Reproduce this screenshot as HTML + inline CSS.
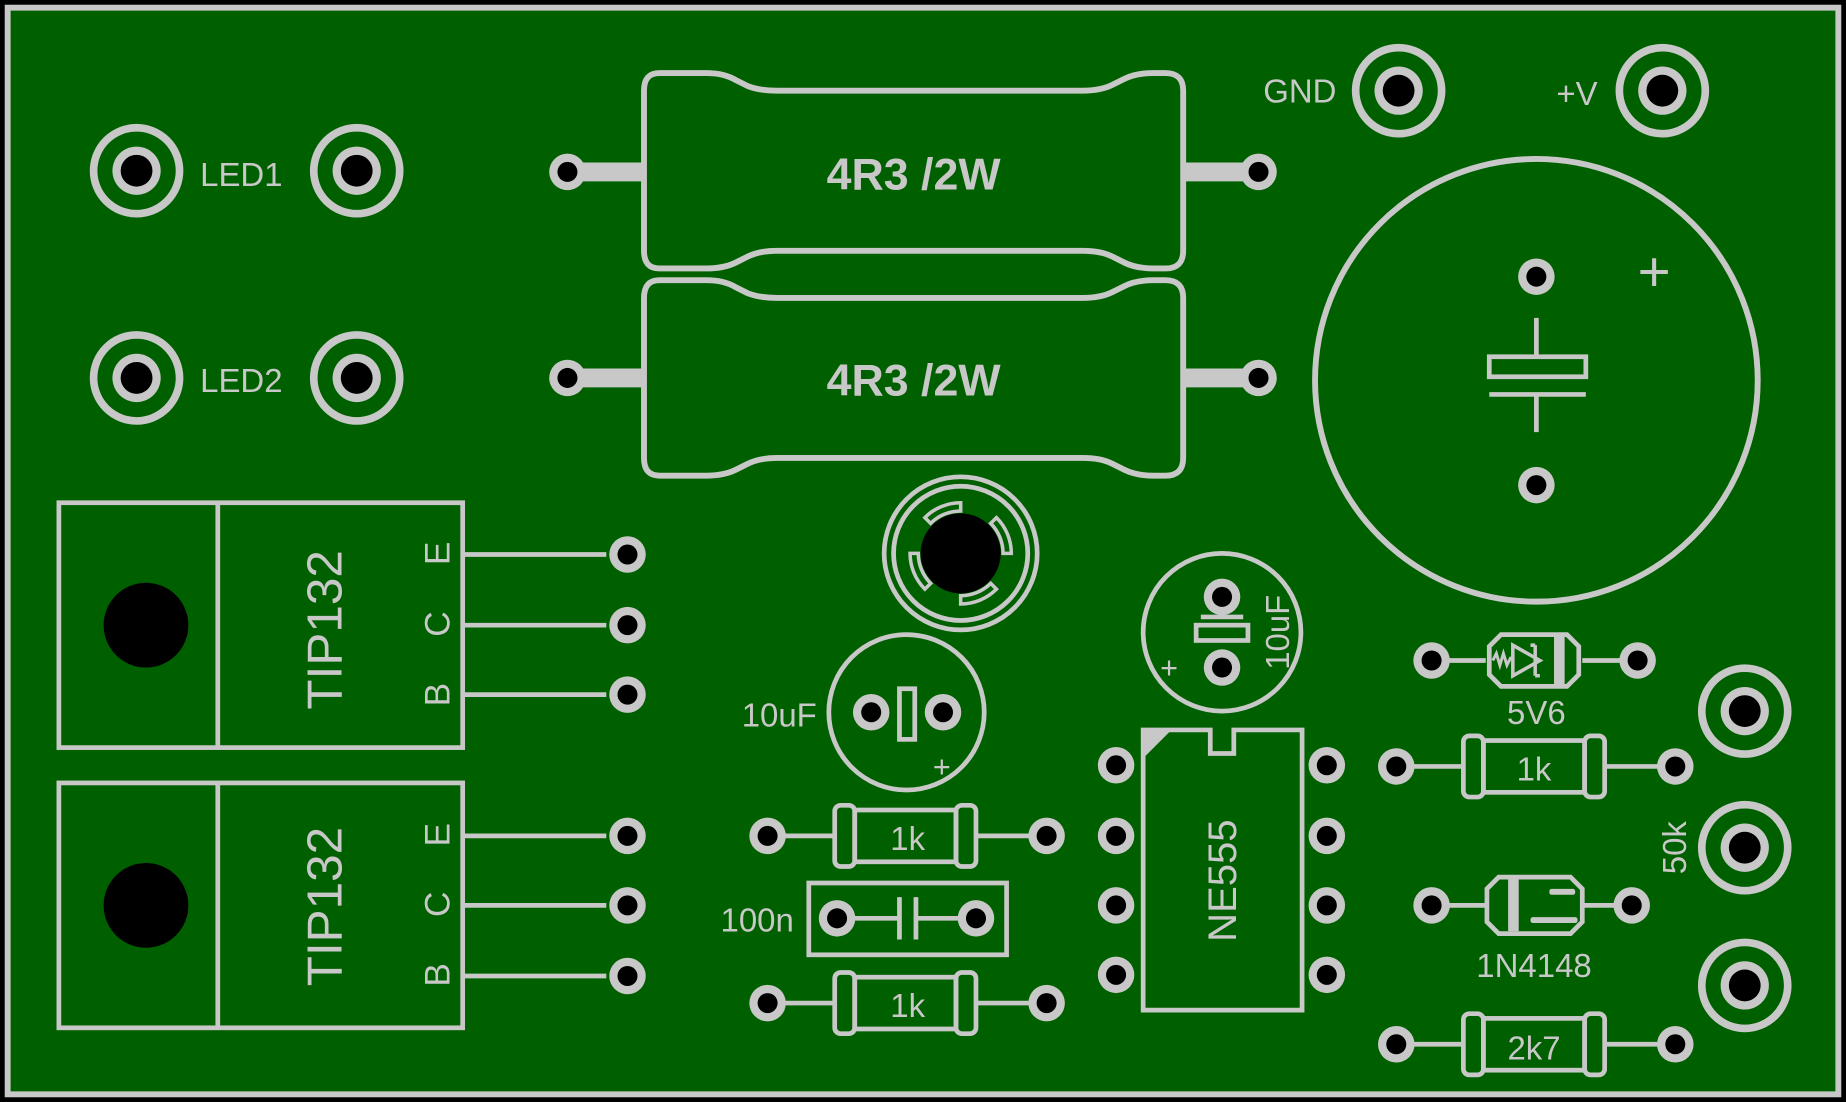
<!DOCTYPE html>
<html><head><meta charset="utf-8"><style>html,body{margin:0;padding:0;background:#000}svg{display:block}</style></head><body>
<svg width="1846" height="1102" viewBox="0 0 1568 936" xmlns="http://www.w3.org/2000/svg" font-family="Liberation Sans, sans-serif">
<defs>
<g id="bp"><circle r="36.5" fill="none" stroke="#c8c8c8" stroke-width="6.5"/><circle r="20.5" fill="#c8c8c8"/><circle r="13.5" fill="#000"/></g>
<g id="sp"><circle r="15.5" fill="#c8c8c8"/><circle r="8.5" fill="#000"/></g>
<g id="res"><rect x="-60" y="-26" width="17" height="52" rx="5" fill="none" stroke="#c8c8c8" stroke-width="4"/><rect x="43" y="-26" width="17" height="52" rx="5" fill="none" stroke="#c8c8c8" stroke-width="4"/><rect x="-43" y="-22" width="86" height="44" fill="none" stroke="#c8c8c8" stroke-width="4"/></g>
<path id="big" d="M560 62 H600 Q615 62 625 68 L635 73 Q645 77 660 77 H920 Q935 77 945 72 L955 67 Q965 62 980 62 H990 Q1005 62 1005 77 V213 Q1005 228 990 228 H980 Q965 228 955 223 L945 218 Q935 213 920 213 H660 Q645 213 635 218 L625 223 Q615 228 600 228 H560 Q547 228 547 213 V77 Q547 62 560 62 Z" fill="none" stroke="#c8c8c8" stroke-width="5"/>
<path id="seg" d="M-30.4 -30.4 A43 43 0 0 1 0 -43 L0 -36 A36 36 0 0 0 -25.5 -25.5 Z" fill="none" stroke="#c8c8c8" stroke-width="3"/>
</defs>
<rect x="4" y="4" width="1560" height="928" fill="#c8c8c8"/>
<rect x="9" y="9" width="1550" height="918" fill="#006000"/>
<g fill="#c8c8c8" font-size="28">
<text x="170" y="158">LED1</text><text x="170" y="333">LED2</text>
<text x="1073" y="87">GND</text><text x="1322" y="89">+V</text>
<text x="630" y="617">10uF</text><text x="612" y="791">100n</text>
<text x="1305" y="615" text-anchor="middle">5V6</text>
<text x="1303" y="830" text-anchor="middle">1N4148</text>
<text x="771" y="722" text-anchor="middle">1k</text><text x="771" y="864" text-anchor="middle">1k</text>
<text x="1303" y="663" text-anchor="middle">1k</text><text x="1303" y="900" text-anchor="middle">2k7</text>
<text transform="translate(1432,720) rotate(-90)" text-anchor="middle">50k</text>
<text transform="translate(1095,537) rotate(-90)" text-anchor="middle">10uF</text>
<text transform="translate(1050,748) rotate(-90)" text-anchor="middle" font-size="34">NE555</text>
<text transform="translate(290,535) rotate(-90)" text-anchor="middle" font-size="42">TIP132</text>
<text transform="translate(290,770) rotate(-90)" text-anchor="middle" font-size="42">TIP132</text>
<g font-size="30">
<text transform="translate(382,470) rotate(-90)" text-anchor="middle">E</text>
<text transform="translate(382,530) rotate(-90)" text-anchor="middle">C</text>
<text transform="translate(382,590) rotate(-90)" text-anchor="middle">B</text>
<text transform="translate(382,709) rotate(-90)" text-anchor="middle">E</text>
<text transform="translate(382,768) rotate(-90)" text-anchor="middle">C</text>
<text transform="translate(382,828) rotate(-90)" text-anchor="middle">B</text>
</g>
<text x="776" y="161" text-anchor="middle" font-size="38" font-weight="bold">4R3 /2W</text>
<text x="776" y="336" text-anchor="middle" font-size="38" font-weight="bold">4R3 /2W</text>
<text x="1405" y="247" text-anchor="middle" font-size="48">+</text>
<text x="800" y="660" text-anchor="middle" font-size="26">+</text>
<text x="993" y="576" text-anchor="middle" font-size="26">+</text>
</g>
<g stroke="#c8c8c8" fill="none" stroke-width="4">
<use href="#big"/><use href="#big" transform="translate(0,176)"/>
<g stroke-width="16"><line x1="482" y1="146" x2="547" y2="146"/><line x1="1005" y1="146" x2="1069" y2="146"/><line x1="482" y1="321" x2="547" y2="321"/><line x1="1005" y1="321" x2="1069" y2="321"/></g>
<circle cx="1305" cy="323" r="188" stroke-width="5"/>
<rect x="1265" y="303" width="82" height="17"/><line x1="1265" y1="335" x2="1347" y2="335"/><line x1="1305" y1="270" x2="1305" y2="303"/><line x1="1305" y1="335" x2="1305" y2="367"/>
<circle cx="816" cy="470" r="65"/><circle cx="816" cy="470" r="57"/>
<g transform="translate(816,470)"><use href="#seg"/><use href="#seg" transform="rotate(90)"/><use href="#seg" transform="rotate(180)"/><use href="#seg" transform="rotate(270)"/></g>
<rect x="50" y="427" width="343" height="208" stroke-width="4"/><line x1="185" y1="427" x2="185" y2="635"/>
<rect x="50" y="665" width="343" height="208" stroke-width="4"/><line x1="185" y1="665" x2="185" y2="873"/>
<line x1="393" y1="471" x2="515" y2="471"/><line x1="393" y1="531" x2="515" y2="531"/><line x1="393" y1="590" x2="515" y2="590"/>
<line x1="393" y1="710" x2="515" y2="710"/><line x1="393" y1="769" x2="515" y2="769"/><line x1="393" y1="829" x2="515" y2="829"/>
<circle cx="770" cy="605" r="66"/><rect x="764" y="585" width="13" height="43"/>
<circle cx="1038" cy="537" r="67"/><rect x="1016" y="531" width="44" height="13"/>
<line x1="1020" y1="524" x2="1056" y2="524"/>
<rect x="687" y="750" width="168" height="61"/><line x1="711" y1="780" x2="764" y2="780"/><line x1="778" y1="780" x2="829" y2="780"/><line x1="764" y1="762" x2="764" y2="798"/><line x1="778" y1="762" x2="778" y2="798"/>
<line x1="652" y1="710" x2="709" y2="710"/><line x1="829" y1="710" x2="889" y2="710"/><use href="#res" transform="translate(769,710)"/>
<line x1="652" y1="852" x2="709" y2="852"/><line x1="829" y1="852" x2="889" y2="852"/><use href="#res" transform="translate(769,852)"/>
<line x1="1186" y1="651" x2="1243" y2="651"/><line x1="1363" y1="651" x2="1423" y2="651"/><use href="#res" transform="translate(1303,651)"/>
<line x1="1186" y1="887" x2="1243" y2="887"/><line x1="1363" y1="887" x2="1423" y2="887"/><use href="#res" transform="translate(1303,887)"/>
<path d="M971 620 H1028 V640 H1048 V620 H1106 V858 H971 Z"/>
<line x1="1216" y1="561" x2="1262" y2="561"/><line x1="1344" y1="561" x2="1391" y2="561"/>
<path d="M1275 539 H1331 L1341 549 V573 L1331 583 H1275 L1265 573 V549 Z"/>
<path d="M1285 548 L1308 561 L1285 574 Z M1304 548 V574 M1300 548 H1304 M1304 574 H1308" stroke-width="3"/>
<path d="M1268 561 l3 -6 l3 10 l3 -10 l3 10 l3 -6 h3" stroke-width="2.5"/>
<line x1="1216" y1="769" x2="1262" y2="769"/><line x1="1344" y1="769" x2="1386" y2="769"/>
<path d="M1273 745 H1334 L1344 755 V783 L1334 793 H1273 L1263 783 V755 Z"/>
</g>
<rect x="1320" y="541" width="9" height="40" fill="#c8c8c8"/>
<rect x="1281" y="747" width="9" height="44" fill="#c8c8c8"/>
<rect x="1300" y="779" width="40" height="5" rx="2" fill="#c8c8c8"/><rect x="1316" y="755" width="22" height="5" rx="2" fill="#c8c8c8"/>
<path d="M971 620 H995 L971 644 Z" fill="#c8c8c8"/>
<circle cx="124" cy="531" r="36" fill="#000"/><circle cx="124" cy="769" r="36" fill="#000"/>
<circle cx="816" cy="470" r="34" fill="#000"/>
<use href="#bp" x="116" y="145"/><use href="#bp" x="303" y="145"/><use href="#bp" x="116" y="321"/><use href="#bp" x="303" y="321"/>
<use href="#bp" x="1188" y="77"/><use href="#bp" x="1412" y="77"/>
<use href="#bp" x="1482" y="604"/><use href="#bp" x="1482" y="720"/><use href="#bp" x="1482" y="837"/>
<use href="#sp" x="482" y="146"/><use href="#sp" x="1069" y="146"/><use href="#sp" x="482" y="321"/><use href="#sp" x="1069" y="321"/>
<use href="#sp" x="1305" y="235"/><use href="#sp" x="1305" y="412"/>
<use href="#sp" x="533" y="471"/><use href="#sp" x="533" y="531"/><use href="#sp" x="533" y="590"/>
<use href="#sp" x="533" y="710"/><use href="#sp" x="533" y="769"/><use href="#sp" x="533" y="829"/>
<use href="#sp" x="740" y="605"/><use href="#sp" x="801" y="605"/>
<use href="#sp" x="1038" y="507"/><use href="#sp" x="1038" y="567"/>
<use href="#sp" x="652" y="710"/><use href="#sp" x="889" y="710"/><use href="#sp" x="652" y="852"/><use href="#sp" x="889" y="852"/>
<use href="#sp" x="711" y="780"/><use href="#sp" x="829" y="780"/>
<use href="#sp" x="948" y="650"/><use href="#sp" x="948" y="710"/><use href="#sp" x="948" y="769"/><use href="#sp" x="948" y="828"/>
<use href="#sp" x="1127" y="650"/><use href="#sp" x="1127" y="710"/><use href="#sp" x="1127" y="769"/><use href="#sp" x="1127" y="828"/>
<use href="#sp" x="1216" y="561"/><use href="#sp" x="1391" y="561"/>
<use href="#sp" x="1186" y="651"/><use href="#sp" x="1423" y="651"/>
<use href="#sp" x="1216" y="769"/><use href="#sp" x="1386" y="769"/>
<use href="#sp" x="1186" y="887"/><use href="#sp" x="1423" y="887"/>
</svg>
</body></html>
